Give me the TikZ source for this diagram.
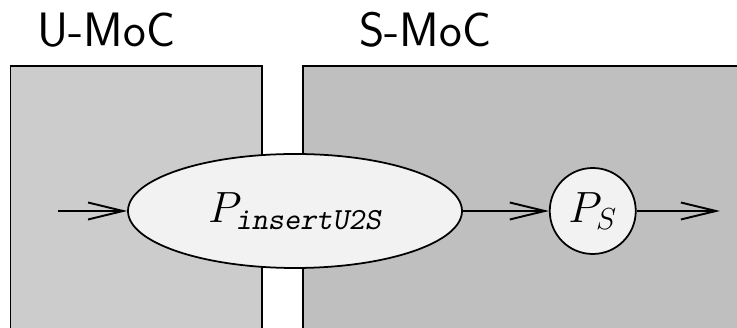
\documentclass[tikz,border=0pt]{standalone}
\usepackage{amsmath}
\usepackage{xcolor}
\usepackage{tikz}
\usetikzlibrary{arrows.meta, positioning, shapes.geometric}

\begin{document}
\begin{tikzpicture}[
  mocbox/.style={draw=black, line width=1.1pt, fill=#1},
  proc/.style={draw=black, line width=1pt, fill=gray!10, inner sep=0pt},
  flow/.style={line width=1.1pt, -{Straight Barb[length=7mm, width=3.4mm, line width=1.1pt]}},
  moclabel/.style={anchor=base, font=\fontsize{27.5}{33}\selectfont\sffamily},
]
  \useasboundingbox (0,0) rectangle (14.74,6.56);
  \clip (0,0) rectangle (14.74,6.56);

  % the two domains
  \draw[mocbox=gray!40] (0.21,-0.5) |- (5.24,5.24) -- (5.24,-0.5);
  \draw[mocbox=gray!50] (6.06,-0.5) |- (15.2,5.24) -- (15.2,-0.5);
  \node[moclabel] (umoc) at (2.13,5.62) {U-MoC};
  \node[moclabel] (smoc) at (8.51,5.62) {S-MoC};

  % processes
  \node[proc, ellipse, minimum width=6.68cm, minimum height=2.28cm,
    font=\fontsize{25}{30}\selectfont] (ins) at (5.9,2.34)
    {$P_{\text{\ttfamily\slshape insertU2S}}$};
  \node[proc, circle, minimum size=1.72cm, right=1.72cm of ins,
    font=\fontsize{25}{30}\selectfont] (ps) {$P_S$};

  \coordinate (src) at (1.16,2.34);
  \coordinate (snk) at (14.4,2.34);

  \draw[flow] (src) -- (ins);
  \draw[flow] (ins) -- (ps);
  \draw[flow] (ps) -- (snk);
\end{tikzpicture}
\end{document}
